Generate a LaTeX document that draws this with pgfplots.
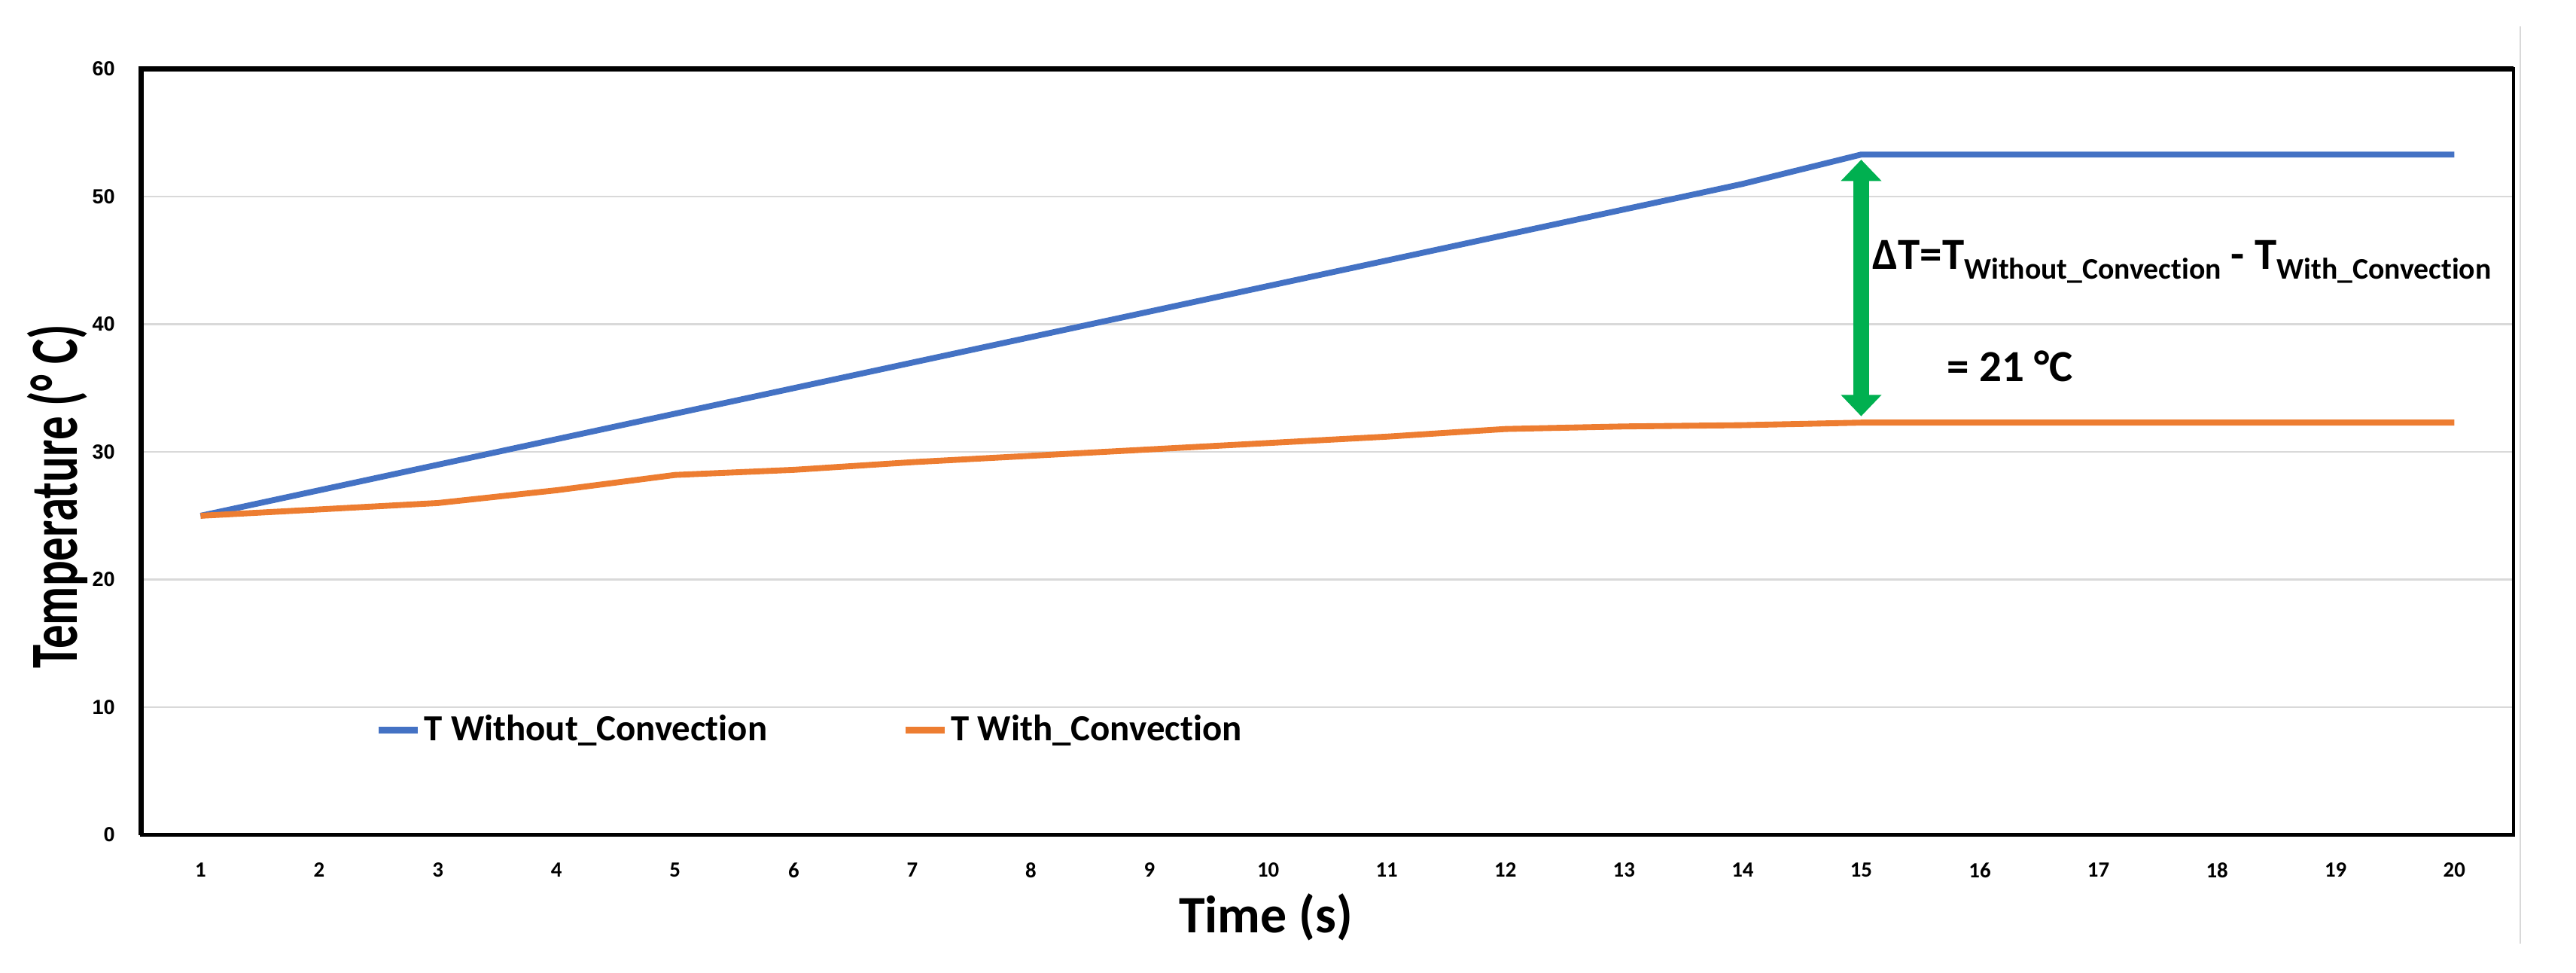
\documentclass[border=0pt]{standalone}
\usepackage{pgfplots}
\pgfplotsset{compat=1.18}
\usepackage{fontspec}
\setmainfont{Carlito}[Ligatures=NoCommon]
\newfontfamily\arialfont{Liberation Sans}
\usetikzlibrary{arrows.meta,calc}
\definecolor{tblue}{HTML}{4472C4}
\definecolor{torange}{HTML}{ED7D31}
\definecolor{tgreen}{HTML}{00B050}
\definecolor{tgrid}{HTML}{D9D9D9}

\begin{document}
\begin{tikzpicture}
\useasboundingbox (-43pt,-42pt) rectangle (741pt,254pt);
\begin{axis}[
  scale only axis, width=722pt, height=233pt,
  xmin=0.5, xmax=20.5, ymin=0, ymax=60,
  xtick={1,...,20}, ytick={0,10,...,60},
  major tick length=0pt,
  ymajorgrids, grid style={tgrid, line width=0.6pt},
  axis line style={line width=1pt},
  clip=false,
  /pgf/number format/assume math mode=true,
  xticklabel style={font=\fontsize{6.6}{7}\selectfont\bfseries, yshift=-5pt},
  yticklabel style={font=\fontsize{6.2}{7}\selectfont\arialfont\bfseries, xshift=-4.5pt},
  xlabel={Time (s)},
  xlabel style={at={(axis description cs:0.474,-0.107)}, anchor=center, font=\fontsize{16}{19}\selectfont\bfseries},
  ylabel={\scalebox{0.9}[1.28]{Temperature (° C)}},
  ylabel style={at={(axis description cs:-0.0353,0.442)}, anchor=center, font=\fontsize{16}{19}\selectfont\bfseries},
  legend columns=-1,
  legend style={draw=none, fill=none, at={(axis description cs:0.0983,0.137)}, anchor=west, inner sep=0pt,
    font=\fontsize{11.2}{13}\selectfont\bfseries, nodes={inner sep=1pt},
    /tikz/every even column/.append style={column sep=40pt}},
  legend image code/.code={\draw[#1, line width=2pt] (0pt,0pt) -- (12pt,0pt);},
]
\addplot[tblue, line width=1.8pt, line join=round] coordinates {
  (1,25) (2,27) (3,29) (4,31) (5,33) (6,35) (7,37) (8,39) (9,41) (10,43)
  (11,45) (12,47) (13,49) (14,51) (15,53.3) (16,53.3) (17,53.3) (18,53.3) (19,53.3) (20,53.3)};
\addlegendentry{T Without\_Convection}
\addplot[torange, line width=1.8pt, line join=round] coordinates {
  (1,25) (2,25.5) (3,26) (4,27) (5,28.2) (6,28.6) (7,29.2) (8,29.7) (9,30.2) (10,30.7)
  (11,31.2) (12,31.8) (13,32) (14,32.1) (15,32.3) (16,32.3) (17,32.3) (18,32.3) (19,32.3) (20,32.3)};
\addlegendentry{T With\_Convection}

% thick frame on left and top
\draw[line width=1.6pt, line join=miter] (rel axis cs:0,0) -- (rel axis cs:0,1) -- (rel axis cs:1,1);
\draw[tgrid, line width=0.6pt] ($(rel axis cs:1,1)+(2pt,13pt)$) -- ($(rel axis cs:1,0)+(2pt,-33pt)$);

% delta T annotation
\draw[tgreen, line width=5pt, {Triangle[width=12pt,length=6.5pt]}-{Triangle[width=12pt,length=6.5pt]}]
  (axis cs:15,52.9) -- (axis cs:15,32.8);
\node[anchor=base west, inner sep=0pt, font=\fontsize{13.5}{16}\selectfont\bfseries] at (axis cs:15.09,44.3)
  {ΔT=T\raisebox{-3pt}{\fontsize{9.1}{10}\selectfont Without\_Convection} - T\raisebox{-3pt}{\fontsize{9.1}{10}\selectfont With\_Convection}};
\node[anchor=base west, inner sep=0pt, font=\fontsize{13.5}{16}\selectfont\bfseries] at (axis cs:15.72,35.5) {= 21 °C};
\end{axis}
\end{tikzpicture}
\end{document}
